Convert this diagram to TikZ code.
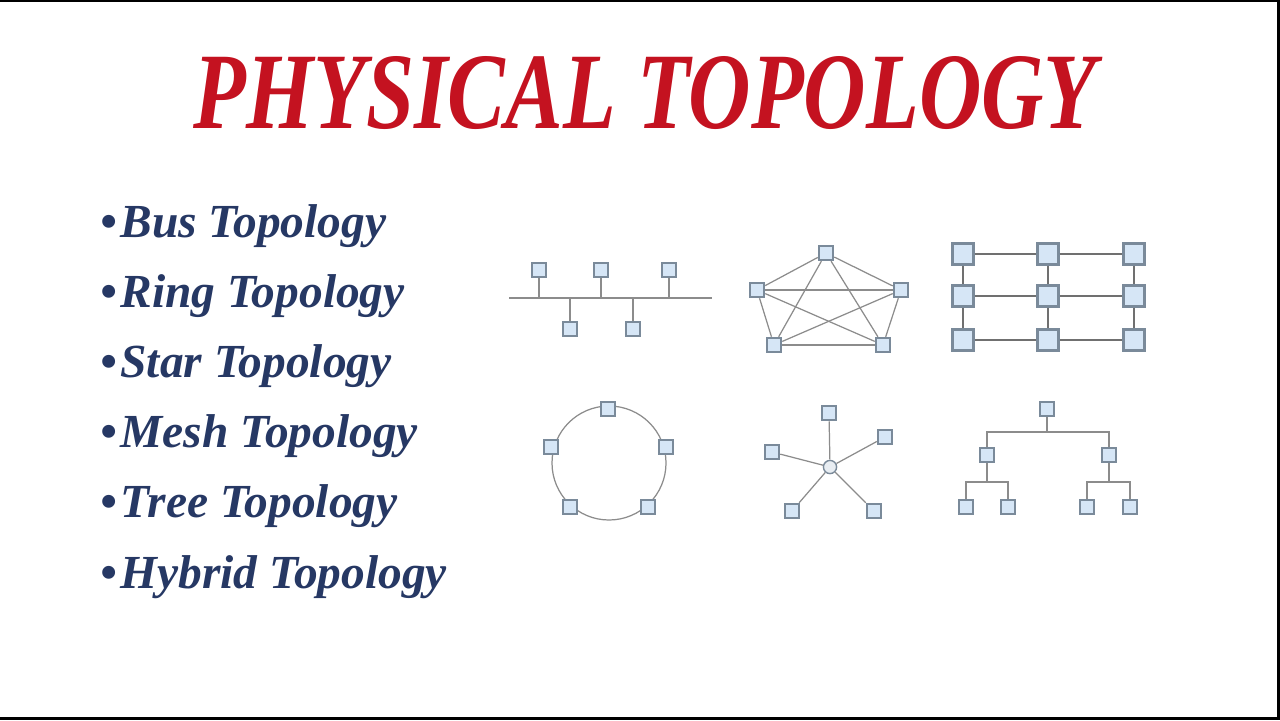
\documentclass[tikz,border=0pt]{standalone}
\usepackage{fontspec}
\setmainfont{Liberation Serif}
\usetikzlibrary{calc}
\definecolor{titlered}{RGB}{196, 18, 32}
\definecolor{listblue}{RGB}{38, 56, 100}
\definecolor{pcfill}{RGB}{214, 230, 246}
\definecolor{pcedge}{RGB}{122, 138, 154}
\definecolor{wire}{RGB}{140, 140, 140}
\colorlet{wire-darker}{wire!80!black}

\tikzset{
  pc/.style={draw=pcedge, fill=pcfill, line width=1.4pt, inner sep=0pt, minimum size=8pt},
  pcbig/.style={pc, minimum size=11.5pt, line width=1.7pt},
  link/.style={draw=wire, line width=0.7pt},
  gridlink/.style={draw=wire-darker, line width=1.1pt},
  entry/.style={anchor=base west, inner sep=0pt, text=listblue, font=\fontsize{27}{32}\selectfont\bfseries\itshape}
}

\begin{document}
\begin{tikzpicture}[x=0.02cm, y=-0.02cm]

    \useasboundingbox (0,0) rectangle (1280,720);
    \fill[white] (0,0) rectangle (1280,720);
    % frame
    \fill[black] (0,0) rectangle (1280,2);
    \fill[black] (1277,0) rectangle (1280,720);
    \fill[black] (0,717) rectangle (1280,720);

    \node[text=titlered, anchor=south west, inner sep=0pt] (title) at (193,130)
        {\resizebox{514pt}{41pt}{\bfseries\itshape PHYSICAL TOPOLOGY}};

    % list
    \foreach \name/\txt [count=\i] in {bus/Bus, ring/Ring, star/Star, mesh/Mesh, tree/Tree, hybrid/Hybrid}
        \node[entry] (item-\name) at (100,{237+70.2*(\i-1)}) {\textbullet\hspace{2pt}\txt\ Topology};

    % bus
    \coordinate (bl) at (509,298);
    \coordinate (br) at (712,298);
    \node[pc] (b1) at (539,270) {};
    \node[pc] (b2) at (601,270) {};
    \node[pc] (b3) at (669,270) {};
    \node[pc] (b4) at (570,329) {};
    \node[pc] (b5) at (633,329) {};
    \draw[link] (bl) -- (br);
    \foreach \n in {b1,b2,b3,b4,b5}
        \draw[link] (\n) -- (\n |- bl);

    % full mesh
    \node[pc] (m1) at (826,253) {};
    \node[pc] (m2) at (757,290) {};
    \node[pc] (m3) at (901,290) {};
    \node[pc] (m4) at (774,345) {};
    \node[pc] (m5) at (883,345) {};
    \foreach \a/\b in {m1/m2, m1/m3, m1/m4, m1/m5, m2/m3, m2/m4, m2/m5, m3/m4, m3/m5, m4/m5}
        \draw[link] (\a) -- (\b);

    % grid
    \foreach \c/\x in {1/963, 2/1048, 3/1134}
        \foreach \r/\y in {1/254, 2/296, 3/340}
            \node[pcbig] (g\r\c) at (\x,\y) {};
    \foreach \r in {1,2,3}
        \draw[gridlink] (g\r1) -- (g\r2) (g\r2) -- (g\r3);
    \foreach \c in {1,2,3}
        \draw[gridlink] (g1\c) -- (g2\c) (g2\c) -- (g3\c);

    % ring
    \coordinate (rc) at (609,463);
    \draw[link] (rc) circle [radius=57];
    \node[pc] (r1) at (608,409) {};
    \node[pc] (r2) at (551,447) {};
    \node[pc] (r3) at (666,447) {};
    \node[pc] (r4) at (570,507) {};
    \node[pc] (r5) at (648,507) {};

    % star
    \node[circle, draw=pcedge, fill=pcfill!80!gray!40, line width=0.8pt, inner sep=0pt, minimum size=7.5pt] (hub) at (830,467) {};
    \node[pc] (s1) at (829,413) {};
    \node[pc] (s2) at (772,452) {};
    \node[pc] (s3) at (885,437) {};
    \node[pc] (s4) at (792,511) {};
    \node[pc] (s5) at (874,511) {};
    \foreach \n in {s1,s2,s3,s4,s5}
        \draw[link] (hub) -- (\n);

    % tree
    \node[pc] (t0) at (1047,409) {};
    \node[pc] (t1) at (987,455) {};
    \node[pc] (t2) at (1109,455) {};
    \node[pc] (t3) at (966,507) {};
    \node[pc] (t4) at (1008,507) {};
    \node[pc] (t5) at (1087,507) {};
    \node[pc] (t6) at (1130,507) {};
    \coordinate (tb0) at (1047,432);
    \coordinate (tb1) at (987,482);
    \coordinate (tb2) at (1109,482);
    \draw[link] (t0) -- (tb0);
    \draw[link] (t1) |- (tb0) -| (t2);
    \draw[link] (t1) -- (tb1);
    \draw[link] (t3) |- (tb1) -| (t4);
    \draw[link] (t2) -- (tb2);
    \draw[link] (t5) |- (tb2) -| (t6);

\end{tikzpicture}
\end{document}
